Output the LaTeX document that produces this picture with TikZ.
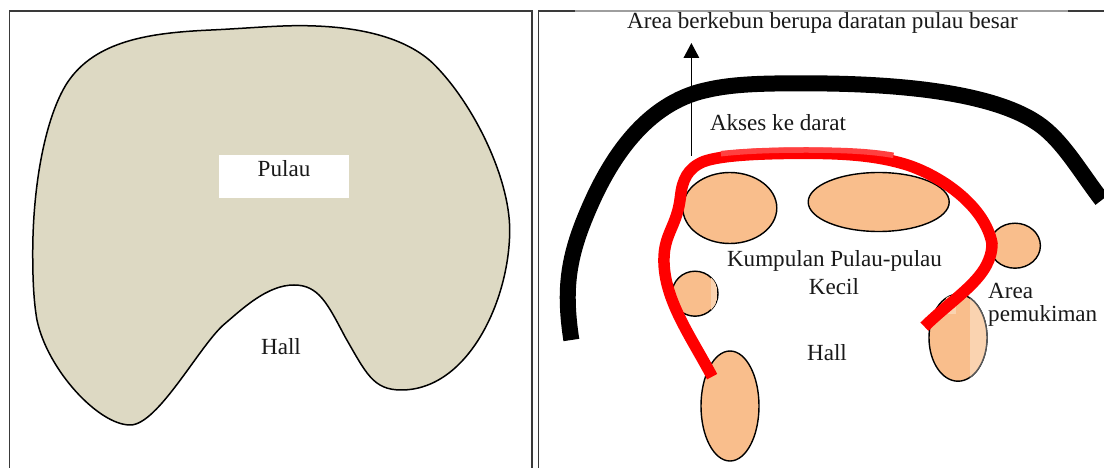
\documentclass[tikz,border=0pt]{standalone}
\usepackage{fontspec}
\setmainfont{Liberation Serif}
\usetikzlibrary{arrows.meta}
\definecolor{blobc}{HTML}{DDD9C3}
\definecolor{peach}{HTML}{F9BE8C}
\definecolor{peachl}{HTML}{FAD3B0}
\definecolor{framec}{HTML}{3A3A3A}
\definecolor{redl}{HTML}{FF4040}
\tikzset{
  lab/.style={font=\fontsize{23.1}{26}\selectfont, text=black!90, inner sep=0pt},
  isle/.style={draw=black, line width=1.4pt, fill=peach},
  framel/.style={draw=framec, line width=1.8pt},
  lz/.style={xscale=0.352, yscale=1/3},
}
\begin{document}
\begin{tikzpicture}[x=1pt,y=-1pt]
\useasboundingbox (0,0) rectangle (1104,468);
\fill[white] (0,0) rectangle (1104,468);
% frames
\draw[framel] (9.5,468) -- (9.5,11) -- (532,11) -- (532,468);
\draw[framel] (538.5,468) -- (538.5,11) -- (1104,11);
\draw[draw=white!62!black, line width=1.8pt] (575,11) -- (1068,11);
% island
\begin{scope}[lz]
\draw[fill=blobc, draw=black, line width=1.5pt]
 (850,77) .. controls (1000,77) and (1140,105) .. (1225,185)
 .. controls (1340,300) and (1448,530) .. (1448,690)
 .. controls (1448,900) and (1330,1170) .. (1140,1170)
 .. controls (1060,1170) and (1040,1120) .. (980,1010)
 .. controls (930,910) and (905,855) .. (835,855)
 .. controls (760,855) and (690,925) .. (640,970)
 .. controls (570,1030) and (450,1275) .. (370,1275)
 .. controls (280,1275) and (135,1110) .. (105,960)
 .. controls (95,900) and (93,830) .. (93,760)
 .. controls (93,550) and (130,350) .. (190,250)
 .. controls (270,120) and (430,98) .. (600,90)
 .. controls (700,85) and (780,77) .. (850,77) -- cycle;
\end{scope}
\fill[white] (219,155) rectangle (349,198);
\node[lab] (pulau) at (284,169) {Pulau};
\node[lab] (hall1) at (281,347) {Hall};
% arrow
\coordinate (arrowS) at (691.4,156);
\coordinate (arrowE) at (691.4,43);
\draw[line width=1.6pt, -{Triangle[length=15pt,width=15.5pt]}] (arrowS) -- (arrowE);
% black coast
\begin{scope}[shift={(552,0)},lz]
\draw[line width=16pt, line join=round]
 (55,1020) .. controls (30,850) and (50,750) .. (120,590)
 .. controls (165,490) and (260,310) .. (440,270)
 .. controls (520,250) and (620,250) .. (720,250)
 .. controls (950,250) and (1240,270) .. (1380,370)
 .. controls (1450,420) and (1500,515) .. (1562,600);
\end{scope}
% small islands
\draw[isle] (729.8,208) ellipse [x radius=47, y radius=35.5];
\draw[isle] (878.7,202) ellipse [x radius=70.5, y radius=29.5];
\draw[isle] (1015,245.7) ellipse [x radius=25.4, y radius=22.5];
\draw[isle] (695,293.7) ellipse [x radius=23, y radius=22.5];
\draw[isle] (958,337.7) ellipse [x radius=29, y radius=43.5];
\draw[isle] (730,406) ellipse [x radius=29, y radius=55];
% light patches
\begin{scope}
\clip (695,293.7) ellipse [x radius=23, y radius=22.5];
\fill[peachl] (711,270) rectangle (716.5,320);
\end{scope}
\begin{scope}
\clip (958,337.7) ellipse [x radius=29, y radius=43.5];
\fill[peachl] (969.5,290) rectangle (990,390);
\fill[peachl] (946,296) rectangle (956,314);
\end{scope}
\begin{scope}
\clip (969.5,290) rectangle (995,390);
\draw[draw=black!65, line width=1.4pt] (958,337.7) ellipse [x radius=29, y radius=43.5];
\end{scope}
% red route
\begin{scope}[shift={(552,0)},lz]
\draw[red, line width=11.5pt, line join=round]
 (1058,980) .. controls (1150,885) and (1250,830) .. (1250,730)
 .. controls (1230,620) and (1110,530) .. (1010,495)
 .. controls (920,465) and (820,460) .. (720,460)
 .. controls (600,460) and (480,465) .. (430,485)
 .. controls (385,505) and (370,540) .. (365,590)
 .. controls (355,680) and (318,700) .. (318,780)
 .. controls (318,900) and (395,1010) .. (455,1130);
\draw[redl, line width=5.5pt]
 (480,461) .. controls (560,452) and (640,450) .. (720,450)
 .. controls (820,450) and (900,453) .. (970,466);
\end{scope}
% labels
\node[lab] (top) at (822.5,23) {Area berkebun berupa daratan pulau besar};
\node[lab] (akses) at (778,123) {Akses ke darat};
\node[lab] (kump) at (834.5,261) {Kumpulan Pulau-pulau};
\node[lab] (kecil) at (834,287) {Kecil};
\node[lab, anchor=west] (area) at (988,291) {Area};
\node[lab, anchor=west] (pem) at (988,316) {pemukiman};
\node[lab] (hall2) at (827,353) {Hall};
\end{tikzpicture}
\end{document}
